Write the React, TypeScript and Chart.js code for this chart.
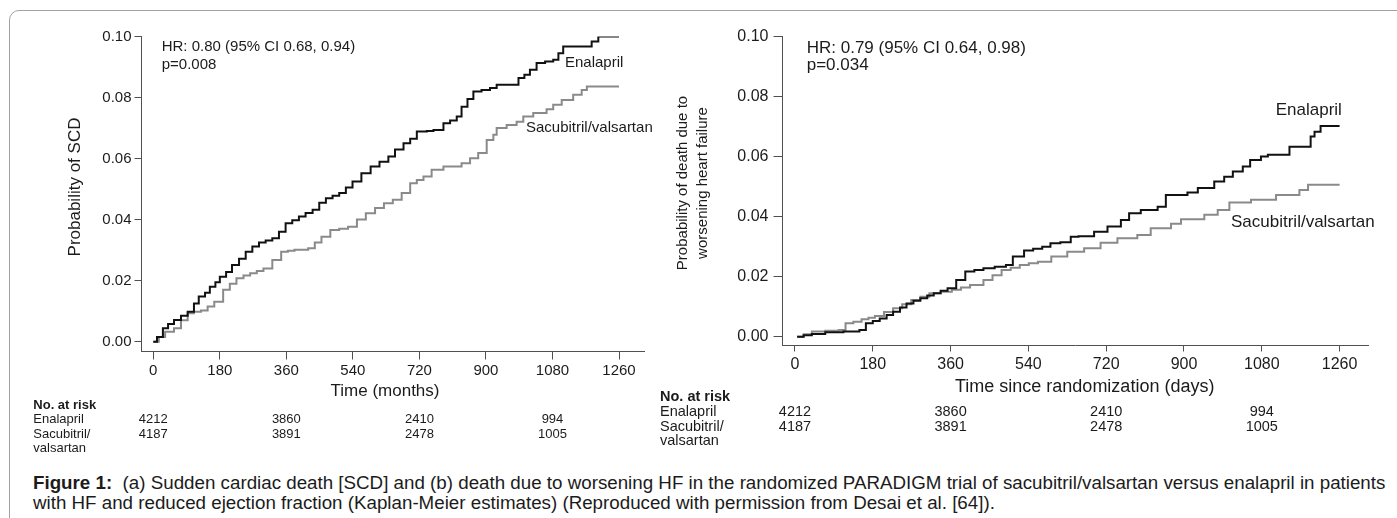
import React, { useEffect, useRef } from "react";
import { Chart, registerables } from "chart.js";

Chart.register(...registerables);

const FONT = "'Liberation Sans', Arial, Helvetica, sans-serif";
const TEXT = "#1b1b1b";
const AXIS = "#505050";
const BLACK_LINE = "#111111";
const GRAY_LINE = "#8a8a8a";

// ---- data ----
const timeTicks = [0, 180, 360, 540, 720, 900, 1080, 1260];
const probTicks = [0, 0.02, 0.04, 0.06, 0.08, 0.1];
const riskTimes = [0, 360, 720, 1080];
const riskEnalapril = [4212, 3860, 2410, 994];
const riskSacubitril = [4187, 3891, 2478, 1005];

// (a) sudden cardiac death
const scdEnalaprilDays = [0, 10, 26, 40, 56, 75, 93, 110, 123, 140, 153, 168, 180, 197, 213, 232, 250, 268, 286, 304, 322, 340, 358, 376, 394, 412, 431, 449, 467, 485, 503, 521, 539, 563, 588, 612, 636, 654, 677, 695, 713, 740, 758, 785, 803, 821, 834, 850, 866, 888, 911, 929, 974, 988, 1004, 1019, 1037, 1060, 1082, 1096, 1109, 1181, 1186, 1204, 1260];
const scdEnalaprilProb = [0, 0.0015, 0.0044, 0.0058, 0.0071, 0.0085, 0.0098, 0.0125, 0.0148, 0.016, 0.018, 0.0195, 0.0213, 0.0228, 0.0251, 0.0272, 0.0295, 0.0312, 0.0325, 0.0332, 0.0339, 0.036, 0.0388, 0.0398, 0.041, 0.0422, 0.0432, 0.0455, 0.047, 0.0478, 0.0487, 0.0505, 0.0525, 0.0552, 0.0574, 0.059, 0.0607, 0.063, 0.065, 0.0665, 0.0689, 0.069, 0.0694, 0.0716, 0.0725, 0.0738, 0.077, 0.0795, 0.082, 0.0825, 0.0831, 0.0842, 0.0842, 0.0864, 0.0875, 0.0891, 0.0913, 0.0918, 0.0924, 0.0945, 0.0967, 0.0967, 0.0984, 0.1, 0.1];
const scdSacubitrilDays = [0, 15, 32, 56, 75, 93, 110, 129, 147, 165, 189, 207, 225, 244, 262, 280, 298, 322, 346, 364, 382, 419, 437, 455, 479, 503, 527, 551, 575, 600, 624, 648, 672, 695, 713, 731, 753, 785, 834, 857, 879, 902, 920, 929, 956, 983, 1001, 1028, 1064, 1082, 1105, 1136, 1159, 1173, 1260];
const scdSacubitrilProb = [0, 0.0015, 0.0033, 0.0044, 0.007, 0.0093, 0.0098, 0.0102, 0.0115, 0.0131, 0.017, 0.019, 0.0208, 0.0217, 0.0224, 0.0232, 0.024, 0.0268, 0.0295, 0.0298, 0.0301, 0.0306, 0.0325, 0.0344, 0.0366, 0.037, 0.0377, 0.04, 0.0421, 0.0438, 0.0454, 0.0465, 0.0487, 0.0519, 0.053, 0.0541, 0.0563, 0.0574, 0.0585, 0.0601, 0.0618, 0.0661, 0.0678, 0.07, 0.071, 0.0721, 0.0738, 0.0749, 0.0762, 0.0776, 0.0792, 0.0809, 0.0825, 0.0836, 0.0836];

// (b) death due to worsening heart failure
const hfEnalaprilDays = [5, 20, 39, 70, 112, 149, 164, 180, 196, 212, 227, 243, 258, 274, 290, 306, 321, 337, 353, 373, 394, 415, 436, 462, 488, 504, 530, 551, 572, 591, 614, 638, 656, 692, 723, 754, 773, 800, 839, 858, 908, 932, 970, 993, 1013, 1036, 1053, 1078, 1094, 1144, 1193, 1202, 1216, 1260];
const hfEnalaprilProb = [0, 0.0005, 0.0009, 0.0015, 0.0017, 0.0022, 0.0045, 0.0052, 0.0061, 0.0072, 0.0083, 0.0097, 0.0111, 0.012, 0.0128, 0.0137, 0.0145, 0.0153, 0.0161, 0.0189, 0.0217, 0.0222, 0.0228, 0.0233, 0.0239, 0.0267, 0.0287, 0.0293, 0.03, 0.0311, 0.0315, 0.0333, 0.0335, 0.035, 0.0367, 0.0389, 0.0411, 0.0422, 0.0433, 0.0472, 0.048, 0.0495, 0.0517, 0.0533, 0.055, 0.0567, 0.0589, 0.06, 0.0606, 0.0633, 0.0667, 0.0683, 0.0702, 0.0702];
const hfSacubitrilDays = [5, 20, 39, 70, 101, 117, 135, 154, 170, 185, 206, 227, 248, 269, 290, 311, 337, 363, 384, 405, 436, 457, 478, 499, 520, 541, 562, 593, 630, 669, 707, 746, 792, 823, 870, 893, 947, 978, 1005, 1055, 1113, 1167, 1187, 1260];
const hfSacubitrilProb = [0, 0.0008, 0.0017, 0.002, 0.0022, 0.0045, 0.005, 0.0058, 0.0063, 0.0069, 0.0082, 0.0095, 0.0108, 0.0122, 0.0133, 0.0145, 0.015, 0.0156, 0.0164, 0.0172, 0.0189, 0.0205, 0.0222, 0.023, 0.0239, 0.0245, 0.025, 0.0267, 0.0283, 0.0295, 0.0313, 0.0328, 0.0339, 0.0361, 0.0376, 0.0391, 0.0406, 0.0422, 0.0447, 0.0456, 0.0472, 0.0489, 0.0506, 0.0506];

const seriesNames = ["Enalapril", "Sacubitril/valsartan"];
const riskRowLabels = ["Enalapril", "Sacubitril/", "valsartan"];

const toPoints = (xs: number[], ys: number[]) => xs.map((x, i) => ({ x, y: ys[i] }));

type PanelSpec = {
  width: number;
  height: number;
  xMin: number;
  xMax: number;
  yMin: number;
  yAxisWidth: number;
  padRight: number;
  padTop: number;
  xAxisHeight: number;
  tickSize: number;
  yTickLen: number;
  yTickPad: number;
  xTickLen: number;
  xTickPad: number;
  enalapril: { x: number; y: number }[];
  sacubitril: { x: number; y: number }[];
  draw: (ctx: CanvasRenderingContext2D, chart: any) => void;
};

function buildChart(canvas: HTMLCanvasElement, s: PanelSpec) {
  const plugin = {
    id: "annotText",
    afterDraw(chart: any) {
      const ctx = chart.ctx as CanvasRenderingContext2D;
      ctx.save();
      ctx.fillStyle = TEXT;
      ctx.textBaseline = "middle";
      s.draw(ctx, chart);
      ctx.restore();
    },
  };
  return new Chart(canvas, {
    type: "line",
    data: {
      datasets: [
        {
          label: seriesNames[0],
          data: s.enalapril,
          borderColor: BLACK_LINE,
          borderWidth: 2,
          pointRadius: 0,
          stepped: true,
          fill: false,
        },
        {
          label: seriesNames[1],
          data: s.sacubitril,
          borderColor: GRAY_LINE,
          borderWidth: 2,
          pointRadius: 0,
          stepped: true,
          fill: false,
        },
      ],
    },
    options: {
      animation: false,
      responsive: false,
      devicePixelRatio: 1,
      events: [],
      layout: { padding: { left: 0, top: s.padTop, right: s.padRight, bottom: 0 } },
      plugins: { legend: { display: false }, tooltip: { enabled: false }, title: { display: false } },
      scales: {
        x: {
          type: "linear",
          min: s.xMin,
          max: s.xMax,
          afterBuildTicks: (scale: any) => {
            scale.ticks = timeTicks.map((v) => ({ value: v }));
          },
          afterFit: (scale: any) => {
            scale.height = s.xAxisHeight;
          },
          grid: { display: true, drawOnChartArea: false, drawTicks: true, tickLength: s.xTickLen, tickColor: AXIS, lineWidth: 1 },
          border: { display: true, color: AXIS, width: 1 },
          ticks: {
            autoSkip: false,
            maxRotation: 0,
            padding: s.xTickPad,
            color: TEXT,
            font: { family: FONT, size: s.tickSize },
            callback: (v: any) => String(v),
          },
        },
        y: {
          type: "linear",
          min: s.yMin,
          max: 0.1,
          afterBuildTicks: (scale: any) => {
            scale.ticks = probTicks.map((v) => ({ value: v }));
          },
          afterFit: (scale: any) => {
            scale.width = s.yAxisWidth;
          },
          grid: { display: true, drawOnChartArea: false, drawTicks: true, tickLength: s.yTickLen, tickColor: AXIS, lineWidth: 1 },
          border: { display: true, color: AXIS, width: 1 },
          ticks: {
            padding: s.yTickPad,
            color: TEXT,
            font: { family: FONT, size: s.tickSize },
            callback: (v: any) => Number(v).toFixed(2),
          },
        },
      },
    },
    plugins: [plugin],
  } as any);
}

// panel (a): canvas at page x=0
const panelA: PanelSpec = {
  width: 660,
  height: 470,
  xMin: -31.9,
  xMax: 1327.6,
  yMin: -0.00321,
  yAxisWidth: 141.5,
  padRight: 16,
  padTop: 36.5,
  xAxisHeight: 118.5,
  tickSize: 15,
  yTickLen: 7,
  yTickPad: 3,
  xTickLen: 8,
  xTickPad: 2,
  enalapril: toPoints(scdEnalaprilDays, scdEnalaprilProb),
  sacubitril: toPoints(scdSacubitrilDays, scdSacubitrilProb),
  draw: (ctx, chart) => {
    ctx.textAlign = "left";
    ctx.font = `15px ${FONT}`;
    ctx.fillText("HR: 0.80 (95% CI 0.68, 0.94)", 161.7, 47.3);
    ctx.fillText("p=0.008", 161.7, 65);
    ctx.fillText(seriesNames[0], 565, 63.3);
    ctx.fillText(seriesNames[1], 526, 128);
    ctx.font = `17px ${FONT}`;
    ctx.textAlign = "center";
    ctx.fillText("Time (months)", 385, 391.7);
    ctx.save();
    ctx.translate(75, 187);
    ctx.rotate(-Math.PI / 2);
    ctx.fillText("Probability of SCD", 0, 0);
    ctx.restore();
    // risk table
    ctx.textAlign = "left";
    ctx.font = `bold 13px ${FONT}`;
    ctx.fillText("No. at risk", 33.3, 405.7);
    ctx.font = `13px ${FONT}`;
    const rows = [419.3, 434, 448.3];
    riskRowLabels.forEach((l, i) => ctx.fillText(l, 33.3, rows[i]));
    ctx.textAlign = "center";
    const xs = chart.scales.x;
    riskTimes.forEach((t, i) => {
      const px = xs.getPixelForValue(t);
      ctx.fillText(String(riskEnalapril[i]), px, rows[0]);
      ctx.fillText(String(riskSacubitril[i]), px, rows[1]);
    });
  },
};

// panel (b): canvas at page x=650
const OFF_B = 650;
const panelB: PanelSpec = {
  width: 747,
  height: 470,
  xMin: -28.9,
  xMax: 1326.4,
  yMin: -0.00293,
  yAxisWidth: 132.5,
  padRight: 28.7,
  padTop: 36.5,
  xAxisHeight: 124.5,
  tickSize: 16,
  yTickLen: 9,
  yTickPad: 5,
  xTickLen: 6,
  xTickPad: 3,
  enalapril: toPoints(hfEnalaprilDays, hfEnalaprilProb),
  sacubitril: toPoints(hfSacubitrilDays, hfSacubitrilProb),
  draw: (ctx, chart) => {
    ctx.textAlign = "left";
    ctx.font = `17px ${FONT}`;
    ctx.fillText("HR: 0.79 (95% CI 0.64, 0.98)", 806.7 - OFF_B, 48.3);
    ctx.fillText("p=0.034", 806.7 - OFF_B, 65);
    ctx.fillText(seriesNames[0], 1275.7 - OFF_B, 110.7);
    ctx.fillText(seriesNames[1], 1231 - OFF_B, 222.3);
    ctx.textAlign = "center";
    ctx.font = `18px ${FONT}`;
    ctx.fillText("Time since randomization (days)", 1084.7 - OFF_B, 386.7);
    ctx.font = `15px ${FONT}`;
    ctx.save();
    ctx.translate(693.3 - OFF_B, 183);
    ctx.rotate(-Math.PI / 2);
    ctx.fillText("Probability of death due to", 0, -10);
    ctx.fillText("worsening heart failure", 0, 10);
    ctx.restore();
    // risk table
    ctx.textAlign = "left";
    ctx.font = `bold 14.5px ${FONT}`;
    ctx.fillText("No. at risk", 660 - OFF_B, 396.7);
    ctx.font = `14.5px ${FONT}`;
    const rows = [412, 426.5, 440.9];
    riskRowLabels.forEach((l, i) => ctx.fillText(l, 660 - OFF_B, rows[i]));
    ctx.textAlign = "center";
    const xs = chart.scales.x;
    riskTimes.forEach((t, i) => {
      const px = xs.getPixelForValue(t);
      ctx.fillText(String(riskEnalapril[i]), px, rows[0]);
      ctx.fillText(String(riskSacubitril[i]), px, rows[1]);
    });
  },
};

export default function App() {
  const refA = useRef<HTMLCanvasElement | null>(null);
  const refB = useRef<HTMLCanvasElement | null>(null);

  useEffect(() => {
    const charts: Chart[] = [];
    if (refA.current) charts.push(buildChart(refA.current, panelA));
    if (refB.current) charts.push(buildChart(refB.current, panelB));
    return () => charts.forEach((c) => c.destroy());
  }, []);

  return (
    <div
      style={{
        position: "fixed",
        left: 0,
        top: 0,
        width: 1397,
        height: 518,
        overflow: "hidden",
        background: "#ffffff",
        fontFamily: FONT,
      }}
    >
      <div
        style={{
          position: "absolute",
          left: 9,
          top: 10,
          width: 1420,
          height: 600,
          border: "1px solid #a3a3a3",
          borderRadius: 10,
          boxSizing: "border-box",
        }}
      />
      <canvas
        ref={refA}
        width={panelA.width}
        height={panelA.height}
        style={{ position: "absolute", left: 0, top: 0, width: panelA.width, height: panelA.height }}
      />
      <canvas
        ref={refB}
        width={panelB.width}
        height={panelB.height}
        style={{ position: "absolute", left: OFF_B, top: 0, width: panelB.width, height: panelB.height }}
      />
      <div
        style={{
          position: "absolute",
          left: 33,
          top: 473,
          fontSize: 18.75,
          lineHeight: "20px",
          color: TEXT,
          whiteSpace: "nowrap",
        }}
      >
        <b>Figure 1:</b>&nbsp; (a) Sudden cardiac death [SCD] and (b) death due to worsening HF in the randomized PARADIGM trial of sacubitril/valsartan versus enalapril in patients
        <br />
        with HF and reduced ejection fraction (Kaplan-Meier estimates) (Reproduced with permission from Desai et al. [64]).
      </div>
    </div>
  );
}
